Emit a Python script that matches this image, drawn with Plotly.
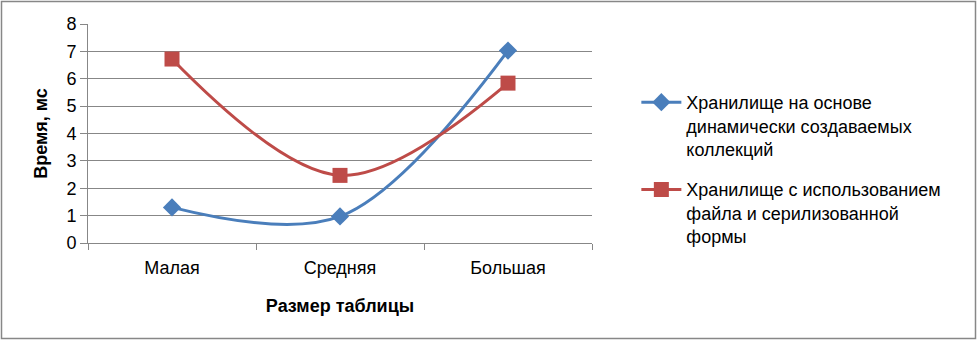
import plotly.graph_objects as go

categories = ["Малая", "Средняя", "Большая"]
series1_name = "Хранилище на основе<br>динамически создаваемых<br>коллекций"
series1_values = [1.3, 0.97, 7.03]
series2_name = "Хранилище с использованием<br>файла и серилизованной<br>формы"
series2_values = [6.72, 2.47, 5.84]
y_ticks = [0, 1, 2, 3, 4, 5, 6, 7, 8]

W, H = 977, 341
L, R, T, B = 88, 385, 24, 98
pw, ph = W - L - R, H - T - B

def px(x):
    return (x - L) / pw

def py(y):
    return (H - B - y) / ph

FONT = "Liberation Sans"
GRAY = "#878787"

fig = go.Figure()
fig.add_trace(go.Scatter(
    x=categories, y=series1_values, name=series1_name, mode="lines+markers",
    legendgroup="g1",
    line=dict(color="#4A7EBB", width=3, shape="spline", smoothing=1),
    marker=dict(symbol="diamond", size=14, color="#4A7EBB"),
))
fig.add_trace(go.Scatter(
    x=categories, y=series2_values, name=series2_name, mode="lines+markers",
    legendgroup="g2",
    line=dict(color="#BE4B48", width=3, shape="spline", smoothing=1),
    marker=dict(symbol="square", size=15, color="#BE4B48"),
))

fig.update_layout(
    width=W, height=H,
    margin=dict(l=L, r=R, t=T, b=B),
    paper_bgcolor="white", plot_bgcolor="white",
    font=dict(family=FONT, size=18, color="black"),
    showlegend=True,
    legend=dict(x=1.088, xanchor="left", y=py(84), yanchor="top",
                font=dict(family=FONT, size=18, color="black"),
                valign="top",
                tracegroupgap=14, itemwidth=40, bgcolor="rgba(0,0,0,0)"),
    xaxis=dict(
        type="category", range=[-0.5, 2.5], showgrid=False,
        showline=True, linecolor=GRAY, linewidth=1,
        ticks="outside", tickson="boundaries", ticklen=6, tickcolor=GRAY,
        tickfont=dict(size=18), ticklabelstandoff=8,
        title=dict(text="<b>Размер таблицы</b>", font=dict(size=18), standoff=22),
    ),
    yaxis=dict(
        range=[0, 8], tickvals=y_ticks, showgrid=True, gridcolor=GRAY, gridwidth=1,
        showline=True, linecolor=GRAY, linewidth=1, zeroline=False,
        ticks="outside", ticklen=7, tickcolor=GRAY,
        tickfont=dict(size=18),
        title=dict(text="<b>Время, мс</b>", font=dict(size=18), standoff=14),
    ),
    shapes=[dict(type="rect", xref="paper", yref="paper",
                 x0=px(1.5), x1=px(975.5), y0=py(H - 2.5), y1=py(1.5),
                 line=dict(color=GRAY, width=1.5), fillcolor="rgba(0,0,0,0)",
                 layer="below")],
)

fig.write_html("out.html", config={"displayModeBar": False},
               post_script="document.body.style.margin='0';")
